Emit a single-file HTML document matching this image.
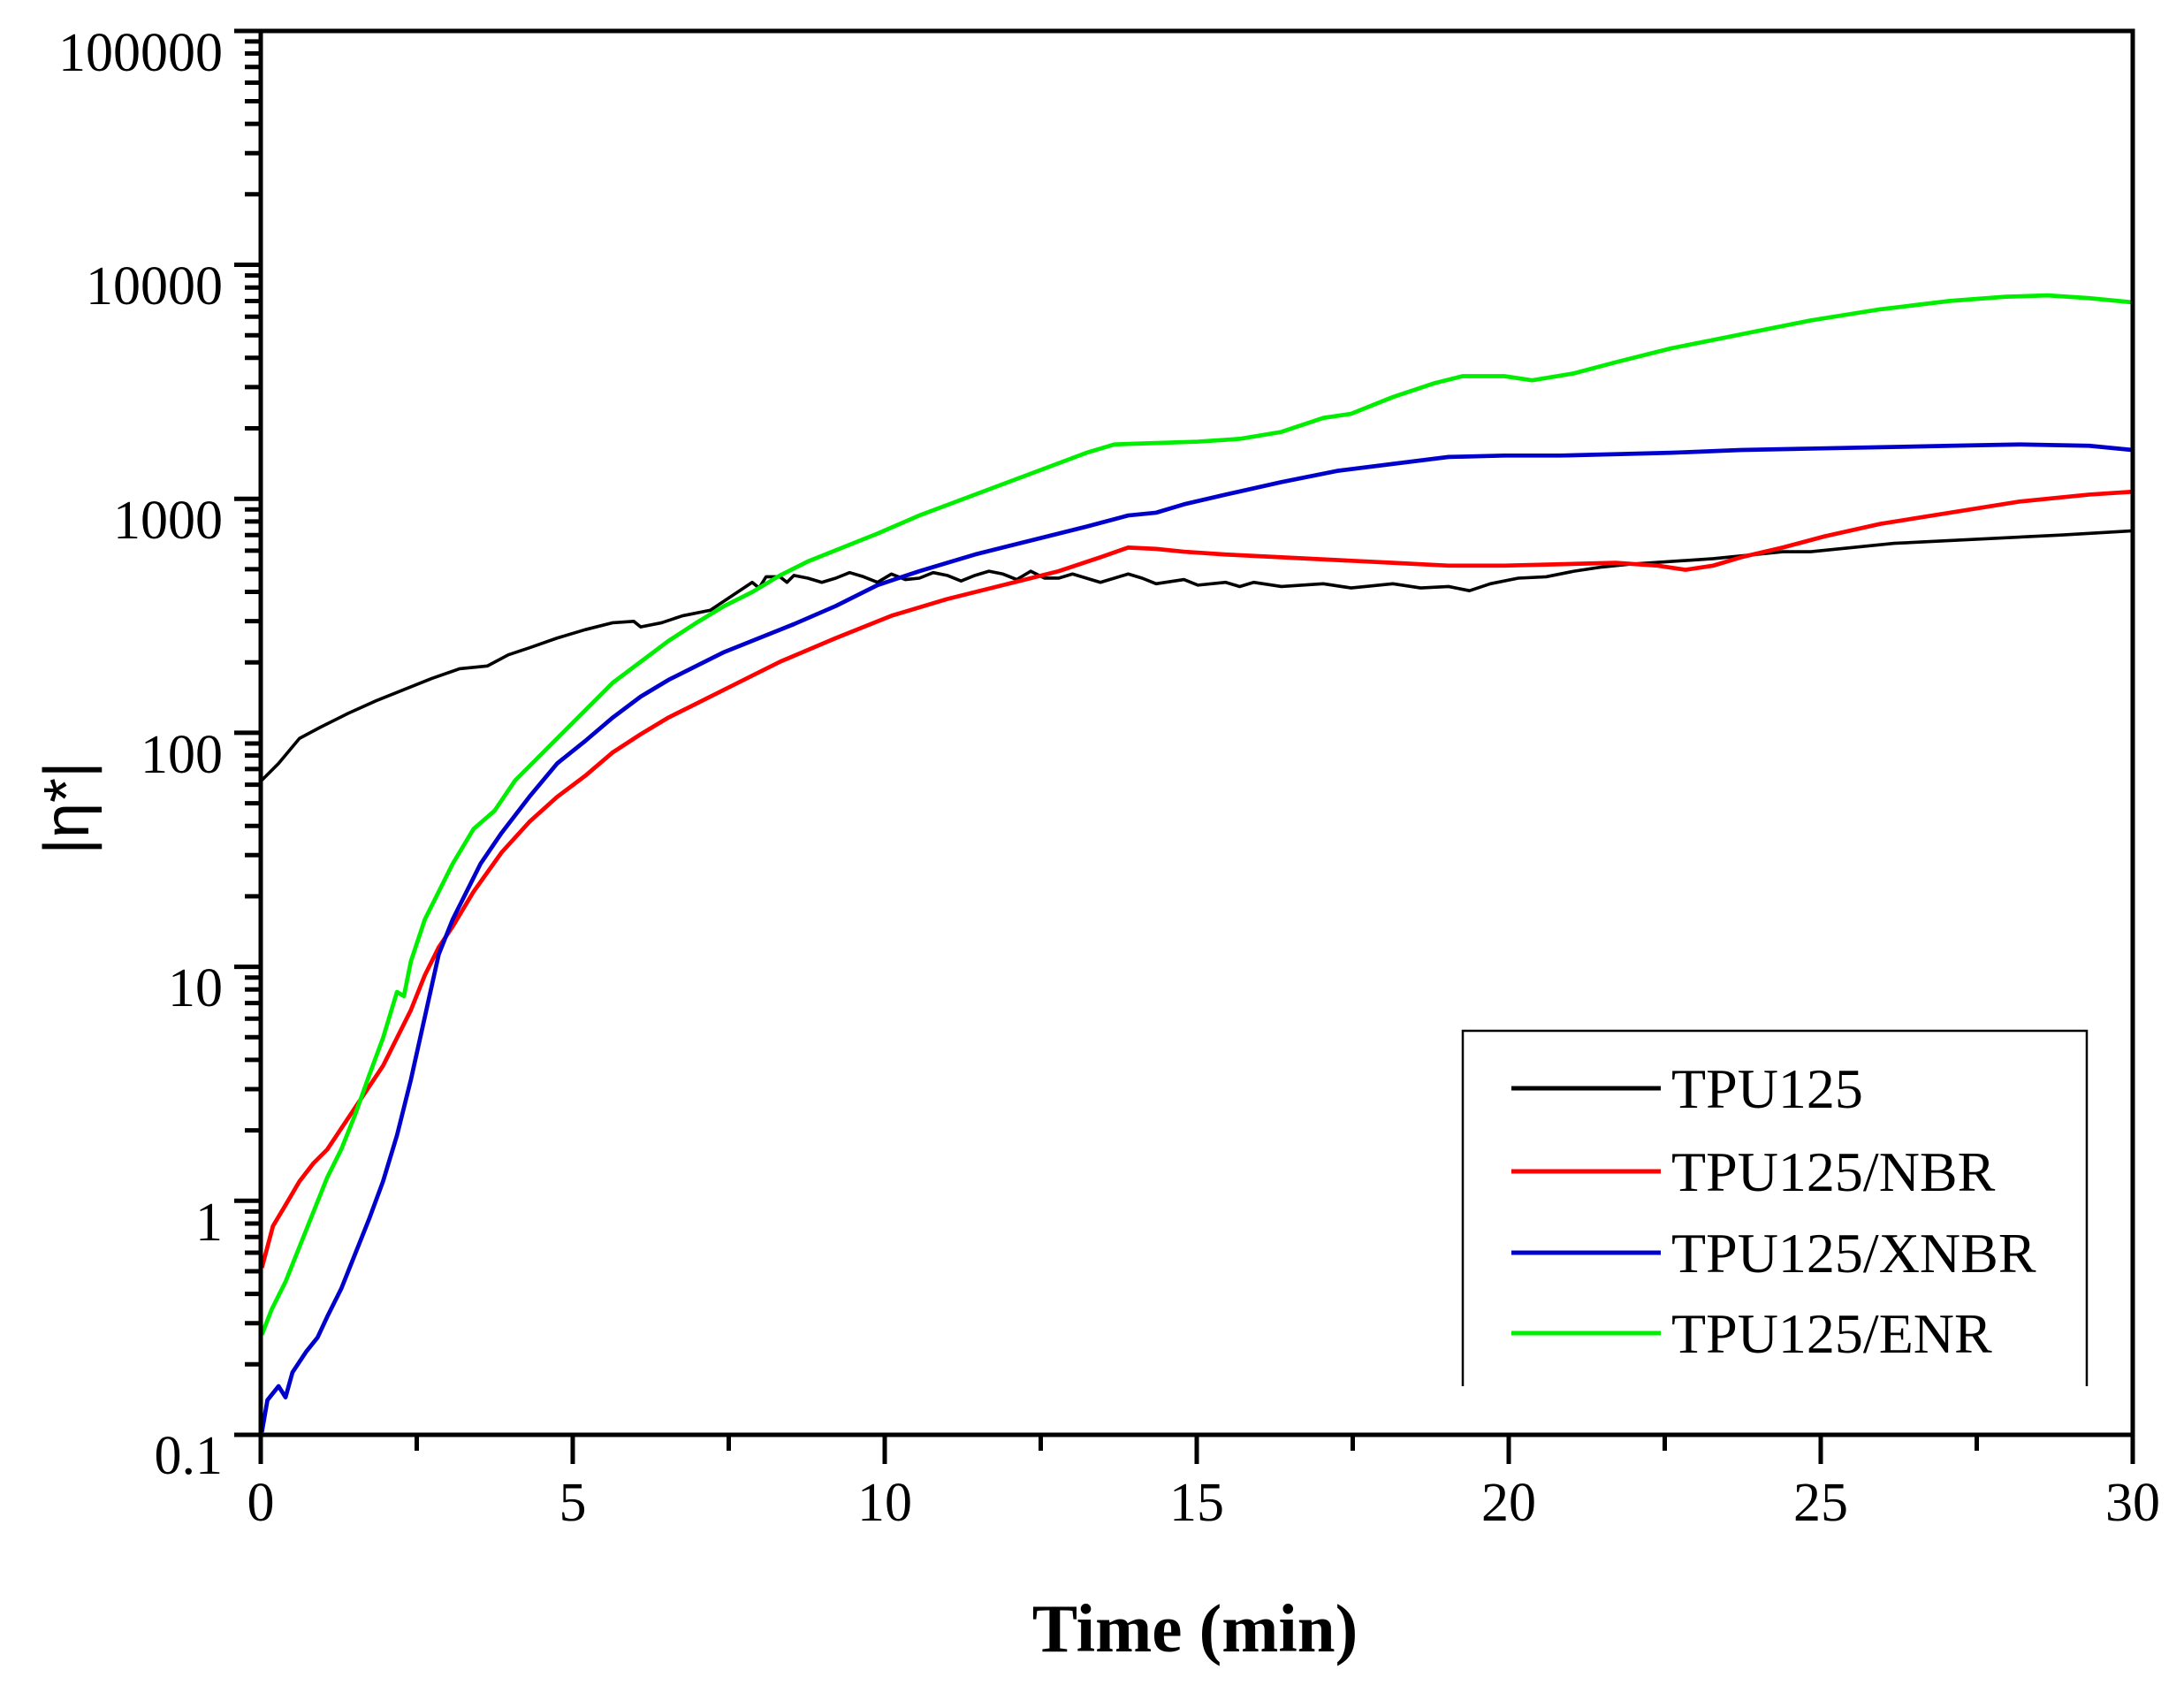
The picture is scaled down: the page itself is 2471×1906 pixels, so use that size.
<!DOCTYPE html>
<html><head><meta charset="utf-8"><style>html,body{margin:0;padding:0;background:#fff}svg{display:block}</style></head>
<body>
<svg width="2471" height="1906" viewBox="0 0 2471 1906" xmlns="http://www.w3.org/2000/svg" font-family="'Liberation Serif', serif">
<g fill="none" stroke-width="3" stroke-linejoin="round" transform="scale(1.5759)">
<path stroke="#000" stroke-width="2.3" d="M188,560 L200,548 215,530 230,522 250,512 270,503 290,495 310,487 330,480 350,478 365,470 380,465 400,458 420,452 440,447 455,446 460,450 475,447 490,442 510,438 525,428 540,418 545,422 550,414 560,414 565,418 570,413 580,415 590,418 600,415 610,411 620,414 630,418 640,412 650,416 660,415 670,411 680,413 690,417 700,413 710,410 720,412 730,416 740,410 750,415 760,415 770,412 780,415 790,418 800,415 810,412 820,415 830,419 850,416 860,420 880,418 890,421 900,418 920,421 950,419 970,422 1000,419 1020,422 1040,421 1055,424 1070,419 1090,415 1110,414 1130,410 1150,407 1170,405 1200,403 1230,401 1250,399 1280,396 1300,396 1330,393 1360,390 1400,388 1440,386 1480,384 1531,381"/>
<path stroke="#f00" d="M188,910 L192,895 196,880 205,865 215,848 225,835 235,825 245,810 255,795 265,780 275,765 285,745 295,725 305,700 315,680 325,665 340,640 360,612 380,590 400,572 420,557 440,540 460,527 480,515 500,505 530,490 560,475 600,458 640,442 680,430 720,420 760,410 790,400 810,393 830,394 850,396 880,398 920,400 960,402 1000,404 1040,406 1080,406 1120,405 1160,404 1190,406 1210,409 1230,406 1250,400 1280,393 1310,385 1350,376 1400,368 1450,360 1500,355 1531,353"/>
<path stroke="#00c" d="M188,1028 L192,1005 200,995 205,1003 210,985 220,970 228,960 235,945 245,925 255,900 265,875 275,848 285,815 295,775 305,730 315,685 325,660 335,640 345,620 360,598 380,572 400,548 420,532 440,515 460,500 480,488 500,478 520,468 540,460 570,448 600,435 630,420 660,410 700,398 740,388 780,378 810,370 830,368 850,362 880,355 920,346 960,338 1000,333 1040,328 1080,327 1120,327 1160,326 1200,325 1250,323 1300,322 1350,321 1400,320 1450,319 1500,320 1531,323"/>
<path stroke="#0e0" d="M188,958 L195,940 205,920 215,895 225,870 235,845 245,825 255,800 265,772 275,745 285,712 290,715 295,690 305,660 315,640 325,620 340,595 355,582 370,560 385,545 400,530 420,510 440,490 460,475 480,460 500,447 520,435 540,425 560,413 580,403 600,395 630,383 660,370 700,355 740,340 780,325 800,319 830,318 860,317 890,315 920,310 950,300 970,297 1000,285 1030,275 1050,270 1080,270 1100,273 1130,268 1160,260 1200,250 1250,240 1300,230 1350,222 1400,216 1440,213 1470,212 1500,214 1531,217"/>
</g>
<rect x="295" y="35" width="2118" height="1588" fill="none" stroke="#000" stroke-width="5"/>
<path stroke="#000" stroke-width="5" fill="none" d="
M265,1623h30 M265,1358.3h30 M265,1093.6h30 M265,828.9h30 M265,564.2h30 M265,299.5h30 M265,35h30
M277,1543.3h18 M277,1496.7h18 M277,1463.6h18 M277,1438h18 M277,1417h18 M277,1399.3h18 M277,1384h18 M277,1370.4h18
M277,1278.6h18 M277,1232h18 M277,1198.9h18 M277,1173.3h18 M277,1152.3h18 M277,1134.6h18 M277,1119.3h18 M277,1105.7h18
M277,1013.9h18 M277,967.3h18 M277,934.2h18 M277,908.6h18 M277,887.6h18 M277,869.9h18 M277,854.6h18 M277,841h18
M277,749.2h18 M277,702.6h18 M277,669.5h18 M277,643.9h18 M277,622.9h18 M277,605.2h18 M277,589.9h18 M277,576.3h18
M277,484.5h18 M277,437.9h18 M277,404.8h18 M277,379.2h18 M277,358.2h18 M277,340.5h18 M277,325.2h18 M277,311.6h18
M277,219.8h18 M277,173.2h18 M277,140.1h18 M277,114.5h18 M277,93.5h18 M277,75.8h18 M277,60.5h18 M277,46.9h18
M295,1623v33 M648,1623v33 M1001,1623v33 M1354,1623v33 M1707,1623v33 M2060,1623v33 M2413,1623v33
M471.5,1623v18 M824.5,1623v18 M1177.5,1623v18 M1530.5,1623v18 M1883.5,1623v18 M2236.5,1623v18"/>
<g font-size="62" text-anchor="end" fill="#000">
<text x="252" y="80">100000</text><text x="252" y="344">10000</text><text x="252" y="609">1000</text>
<text x="252" y="874">100</text><text x="252" y="1138">10</text><text x="252" y="1403">1</text><text x="252" y="1667">0.1</text>
</g>
<g font-size="62" text-anchor="middle" fill="#000">
<text x="295" y="1720">0</text><text x="648" y="1720">5</text><text x="1001" y="1720">10</text>
<text x="1354" y="1720">15</text><text x="1707" y="1720">20</text><text x="2060" y="1720">25</text><text x="2413" y="1720">30</text>
</g>
<text x="1352" y="1868" font-size="77" font-weight="bold" text-anchor="middle">Time (min)</text>
<text transform="translate(100,914) rotate(-90)" font-family="'Liberation Sans', sans-serif" font-size="72" text-anchor="middle">|η*|</text>
<path d="M1655,1568 V1166 H2361 V1568" fill="none" stroke="#000" stroke-width="2.5"/>
<g stroke-width="5">
<line x1="1710" y1="1231" x2="1879" y2="1231" stroke="#000"/>
<line x1="1710" y1="1325" x2="1879" y2="1325" stroke="#f00"/>
<line x1="1710" y1="1417" x2="1879" y2="1417" stroke="#00c"/>
<line x1="1710" y1="1508" x2="1879" y2="1508" stroke="#0e0"/>
</g>
<g font-size="64" fill="#000">
<text x="1891" y="1253">TPU125</text><text x="1891" y="1347">TPU125/NBR</text>
<text x="1891" y="1439">TPU125/XNBR</text><text x="1891" y="1530">TPU125/ENR</text>
</g>
</svg>
</body></html>
